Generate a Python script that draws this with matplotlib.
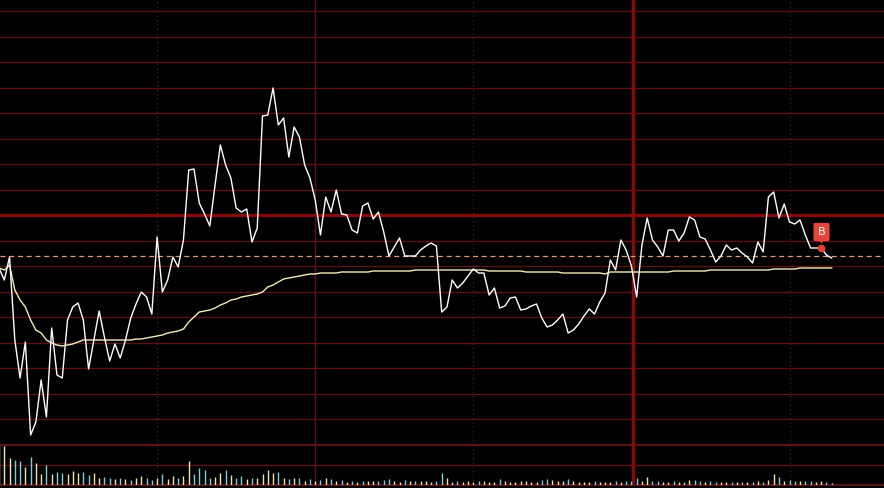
import matplotlib
matplotlib.use("Agg")
import matplotlib.pyplot as plt
import matplotlib.transforms as mtransforms
import numpy as np

# intraday price change (%) per minute, white line
price = [-0.53, -0.65, -0.42, -1.25, -1.63, -1.27, -2.20, -2.07, -1.65, -2.02,
         -1.13, -1.60, -1.63, -1.05, -0.92, -0.88, -1.05, -1.54, -1.25, -0.96,
         -1.22, -1.46, -1.29, -1.43, -1.25, -1.03, -0.89, -0.77, -0.82, -0.99,
         -0.22, -0.77, -0.65, -0.42, -0.52, -0.25, 0.45, 0.46, 0.12, 0.01,
         -0.11, 0.30, 0.70, 0.50, 0.37, 0.07, 0.03, 0.06, -0.27, -0.13,
         0.99, 1.00, 1.27, 0.90, 0.97, 0.58, 0.88, 0.78, 0.50, 0.37,
         0.15, -0.20, 0.18, 0.03, 0.25, 0.01, 0.00, -0.15, -0.18, 0.09,
         0.12, -0.04, 0.03, -0.17, -0.41, -0.32, -0.23, -0.41, -0.41, -0.41,
         -0.35, -0.31, -0.28, -0.31, -0.97, -0.92, -0.65, -0.73, -0.68, -0.61,
         -0.54, -0.58, -0.58, -0.80, -0.73, -0.93, -0.91, -0.83, -0.82, -0.95,
         -0.94, -0.91, -0.89, -1.03, -1.12, -1.10, -1.05, -0.99, -1.18, -1.15,
         -1.09, -1.01, -0.94, -0.99, -0.87, -0.78, -0.45, -0.55, -0.25, -0.35,
         -0.51, -0.82, -0.30, -0.03, -0.25, -0.32, -0.41, -0.15, -0.15, -0.26,
         -0.18, -0.02, -0.05, -0.22, -0.24, -0.35, -0.47, -0.41, -0.30, -0.35,
         -0.33, -0.38, -0.42, -0.48, -0.27, -0.37, 0.18, 0.23, -0.03, 0.11,
         -0.07, -0.09, -0.05, -0.20, -0.33, -0.33, -0.33, -0.40, -0.43]

# average price line (%), pale yellow
avg = ([-0.53, -0.55, -0.50, -0.75, -0.85, -0.92, -1.05, -1.15, -1.18, -1.25,
        -1.28, -1.30, -1.31, -1.30, -1.29, -1.27]
       + [-1.25] * 10
       + [-1.24, -1.24, -1.23, -1.22, -1.21, -1.20, -1.18, -1.17, -1.16, -1.14,
          -1.07, -1.02, -0.97, -0.96, -0.95, -0.93, -0.90, -0.88, -0.85, -0.84,
          -0.82, -0.81, -0.80, -0.79, -0.77, -0.72, -0.70, -0.67, -0.64, -0.63,
          -0.62, -0.61, -0.60, -0.59, -0.59]
       + [-0.58] * 4 + [-0.57] * 6 + [-0.56] * 8 + [-0.55] * 14
       + [-0.56] * 7 + [-0.57] * 7 + [-0.58] * 8 + [-0.59]
       + [-0.57] * 12 + [-0.56] * 7 + [-0.55] * 12 + [-0.54] * 5 + [-0.53] * 7)

# volume per minute (hundreds of lots) and bar direction (u = up, d = down)
vol = [40, 39, 27, 25, 24, 18, 28, 22, 11, 20, 11, 13, 12, 11, 14, 12, 13, 10, 12, 7,
       8, 7, 6, 7, 6, 5, 7, 9, 7, 5, 7, 11, 6, 9, 7, 9, 24, 11, 17, 15,
       7, 8, 12, 15, 10, 7, 9, 6, 7, 7, 11, 15, 12, 13, 7, 6, 7, 7, 4, 6,
       4, 5, 7, 6, 4, 5, 3, 4, 3, 4, 4, 4, 4, 5, 6, 4, 3, 5, 4, 4,
       4, 4, 3, 4, 12, 7, 3, 4, 3, 4, 3, 4, 4, 3, 3, 6, 4, 3, 3, 4,
       4, 3, 3, 5, 6, 5, 4, 4, 6, 4, 3, 3, 3, 4, 3, 3, 3, 4, 3, 4,
       4, 7, 4, 8, 4, 4, 3, 3, 4, 3, 3, 5, 5, 4, 3, 4, 3, 3, 3, 3,
       3, 3, 3, 3, 4, 3, 5, 11, 8, 4, 5, 4, 4, 4, 4, 3, 4, 3, 2]
direction = ("uuudduduud" "udduuudduu" "ddududuudd" "uduuduuddd" "duududdudu"
             "uuudududud" "ududududud" "uuddduudud" "uuudduuduu" "uduuuduuuu"
             "uuudduuudu" "uuuduuudud" "dduudduudu" "duddudduud" "udududuudu"
             "ddudduudd")

cost_line = -0.41   # dashed buy-cost line
buy_minute = 156
grid_step = 0.255

minutes = np.arange(len(price))
BG = "#000000"
GRID = "#5a1212"
GRID_BOLD = "#850a0a"

fig = plt.figure(figsize=(8.84, 4.88), dpi=100, facecolor=BG)
W, H = 884, 488
xlim = (1 / 5.27, 885 / 5.27)

ax = fig.add_axes([0, (H - 444.5) / H, 1, 459 / H])
vax = fig.add_axes([0, (H - 485) / H, 1, 40.5 / H])
for a in (ax, vax):
    a.set_facecolor(BG)
    a.set_xlim(*xlim)
    a.axis("off")

ax.set_ylim(-9 * grid_step, 9 * grid_step)
vax.set_ylim(0, 40.5)

# horizontal grid
for k in range(-9, 10):
    if k == 0:
        ax.axhline(0, color=GRID_BOLD, lw=2.4, zorder=1)
    elif k == -9:
        ax.axhline(k * grid_step, color=GRID, lw=1.6, zorder=1, clip_on=False)
    else:
        ax.axhline(k * grid_step, color=GRID, lw=1.0, zorder=1)
vax.axhline(20, color=GRID, lw=1.0, zorder=1)
vax.axhline(0, color=GRID, lw=1.4, zorder=1, clip_on=False)

# vertical grid
for a in (ax, vax):
    for m in (30, 90, 150):
        a.axvline(m, color="#6a1616", lw=0.9, ls=(0, (1, 2.5)), zorder=1)
    a.axvline(60, color=GRID, lw=1.0, zorder=1)
    a.axvline(120.3, color=GRID_BOLD, lw=2.4, zorder=1)

# cost line
ax.axhline(cost_line, color="#e39a6e", lw=0.9, ls=(0, (4, 3)), zorder=2)

# average and price lines
ax.plot(minutes, avg, color="#f3ecb6", lw=1.0, zorder=3)
ax.plot(minutes, price, color="#ffffff", lw=1.0, zorder=4)

# buy marker
ax.plot(buy_minute, price[buy_minute], "o", color="#e8412f", ms=5.5, mec="none", zorder=5)
ax.annotate("B", xy=(buy_minute, price[buy_minute]), xytext=(0.3, 11.5),
            textcoords="offset points", ha="center", va="center",
            color="white", fontsize=8, family="DejaVu Sans", zorder=6,
            bbox=dict(boxstyle="round,pad=0.38,rounding_size=0.18",
                      fc="#e5473a", ec="none"))
tri = mtransforms.offset_copy(ax.transData, fig=fig, x=0, y=5.2, units="points")
ax.plot(buy_minute, price[buy_minute], "v", color="#e5473a", ms=3.5, mec="none",
        transform=tri, zorder=6)

# volume bars
colors = ["#f1e5a6" if d == "u" else "#76d2df" for d in direction]
vax.vlines(minutes, 0, vol, colors=colors, lw=1.0, zorder=3)

fig.savefig("out.png", dpi=100, facecolor=BG)
